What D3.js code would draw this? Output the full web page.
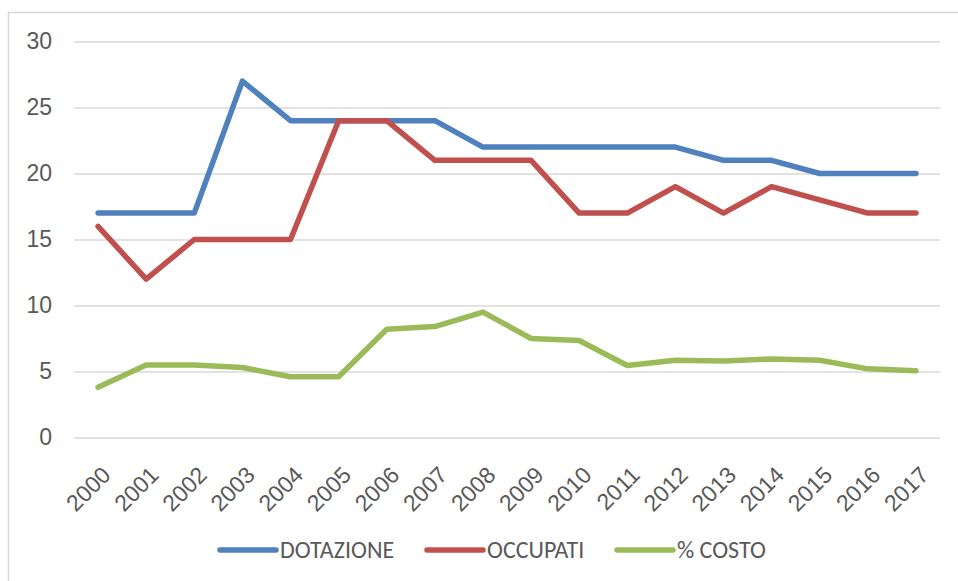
<!DOCTYPE html>
<html>
<head>
<meta charset="utf-8">
<script src="https://cdn.jsdelivr.net/npm/d3@7"></script>
<style>
  body { margin: 0; background: #fff; }
  svg { font-family: Calibri, Carlito, "Liberation Sans", "Open Sans", sans-serif; }
</style>
</head>
<body>
<div id="chart"></div>
<script>
// Years on the x axis.
const years = ["2000", "2001", "2002", "2003", "2004", "2005", "2006", "2007", "2008",
  "2009", "2010", "2011", "2012", "2013", "2014", "2015", "2016", "2017"];

// Series values.
const dotazione = [17, 17, 17, 27, 24, 24, 24, 24, 22, 22, 22, 22, 22, 21, 21, 20, 20, 20];
const occupati = [16, 12, 15, 15, 15, 24, 24, 21, 21, 21, 17, 17, 19, 17, 19, 18, 17, 17];
const costo = [3.8, 5.5, 5.5, 5.3, 4.6, 4.6, 8.2, 8.4, 9.5, 7.5, 7.35, 5.45, 5.85, 5.8, 5.95, 5.85, 5.2, 5.05];

const yTicks = [0, 5, 10, 15, 20, 25, 30];

const seriesNames = ["DOTAZIONE", "OCCUPATI", "% COSTO"];
const seriesColors = ["#4F81BD", "#C0504D", "#9BBB59"];

const series = [dotazione, occupati, costo].map((values, i) => ({
  name: seriesNames[i], color: seriesColors[i], values
}));

const width = 958, height = 581;
const margin = { top: 41.5, right: 18, bottom: 143.5, left: 74 };
const plotW = width - margin.left - margin.right;
const plotH = height - margin.top - margin.bottom;

const svg = d3.select("#chart").append("svg")
  .attr("width", width)
  .attr("height", height);

// Chart area border.
svg.append("rect")
  .attr("x", 8.5).attr("y", 12.5)
  .attr("width", 960).attr("height", 600)
  .attr("fill", "none")
  .attr("stroke", "#d9d9d9")
  .attr("stroke-width", 1.5);

const g = svg.append("g")
  .attr("transform", `translate(${margin.left},${margin.top})`);

const x = d3.scaleBand().domain(years).range([0, plotW]);
const y = d3.scaleLinear().domain([0, 30]).range([plotH, 0]);

// Gridlines + y labels.
const yAxis = g.append("g")
  .call(d3.axisLeft(y).tickValues(yTicks).tickSize(-plotW).tickPadding(22));
yAxis.select(".domain").remove();
yAxis.selectAll(".tick line").attr("stroke", "#d9d9d9").attr("stroke-width", 1.5);
yAxis.selectAll(".tick text")
  .attr("fill", "#595959")
  .style("font-size", "23px");

// X labels, rotated.
const xAxis = g.append("g")
  .attr("transform", `translate(0,${plotH})`)
  .call(d3.axisBottom(x).tickSize(0).tickPadding(0));
xAxis.select(".domain").remove();
xAxis.selectAll(".tick text")
  .attr("fill", "#595959")
  .style("font-size", "23px")
  .attr("text-anchor", "end")
  .attr("dy", "0")
  .attr("y", 0)
  .attr("transform", "translate(14,39) rotate(-45)");

// Lines.
const line = d3.line()
  .x((d, i) => x(years[i]) + x.bandwidth() / 2)
  .y(d => y(d));

g.selectAll(".series")
  .data(series)
  .join("path")
  .attr("class", "series")
  .attr("d", d => line(d.values))
  .attr("fill", "none")
  .attr("stroke", d => d.color)
  .attr("stroke-width", 5.5)
  .attr("stroke-linejoin", "round")
  .attr("stroke-linecap", "round");

// Legend.
const legendX = [220, 427, 617];
const legend = svg.append("g").attr("transform", "translate(0,550)");
const item = legend.selectAll("g")
  .data(series)
  .join("g")
  .attr("transform", (d, i) => `translate(${legendX[i]},0)`);
item.append("line")
  .attr("x1", 0).attr("x2", 56)
  .attr("stroke", d => d.color)
  .attr("stroke-width", 5.5)
  .attr("stroke-linecap", "round");
item.append("text")
  .attr("x", 60)
  .attr("dy", "0.35em")
  .attr("fill", "#595959")
  .style("font-size", "24px")
  .text(d => d.name);
</script>
</body>
</html>
